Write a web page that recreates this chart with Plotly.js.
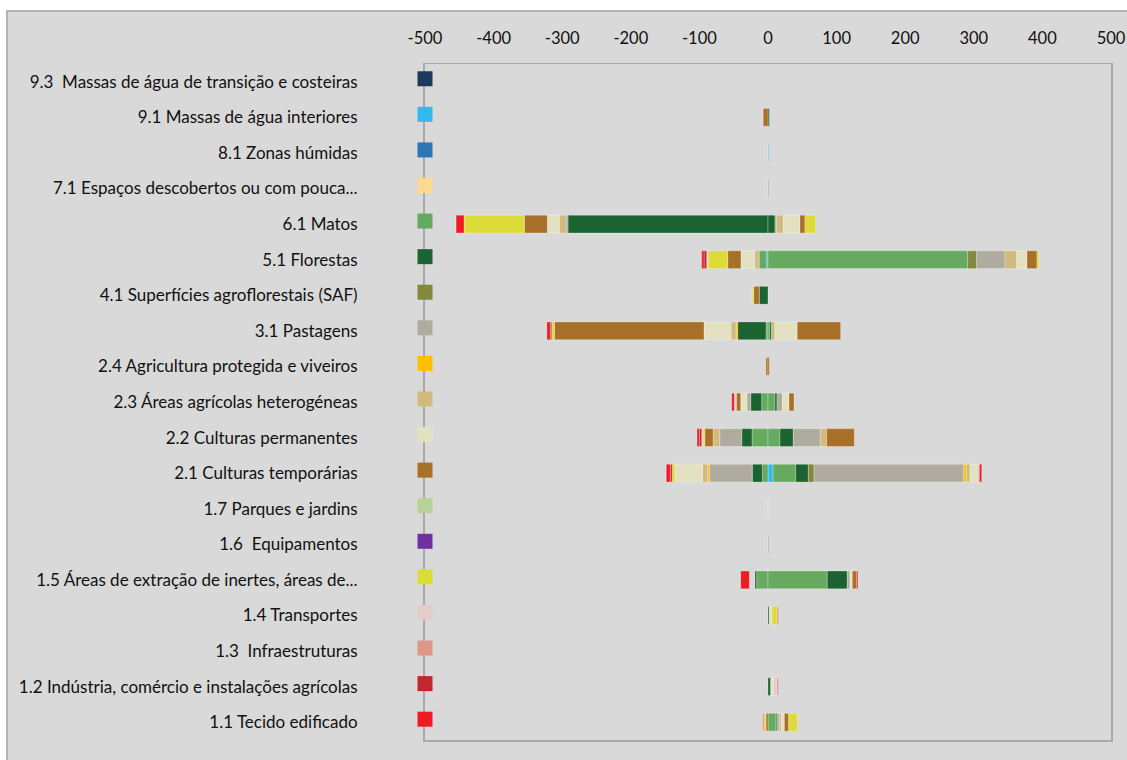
<!DOCTYPE html>
<html><head><meta charset="utf-8">
<script src="https://cdn.plot.ly/plotly-3.0.1.min.js"></script>
<style>
html,body{margin:0;padding:0;background:#fff;width:1127px;height:760px;overflow:hidden;}
#moldura{position:absolute;left:6px;top:10px;width:1200px;height:800px;background:#d9d9d9;border-left:2px solid #b3b3b3;border-top:2px solid #b3b3b3;}
#grafico{position:absolute;left:0;top:0;width:1127px;height:760px;}
</style></head><body>
<div id="moldura"></div><div id="grafico"></div>
<script>
// Categories (top to bottom)
const categorias = [
  '9.3\u00a0 Massas de água de transição e costeiras',
  '9.1 Massas de água interiores',
  '8.1 Zonas húmidas',
  '7.1 Espaços descobertos ou com pouca...',
  '6.1 Matos',
  '5.1 Florestas',
  '4.1 Superfícies agroflorestais (SAF)',
  '3.1 Pastagens',
  '2.4 Agricultura protegida e viveiros',
  '2.3 Áreas agrícolas heterogéneas',
  '2.2 Culturas permanentes',
  '2.1 Culturas temporárias',
  '1.7 Parques e jardins',
  '1.6\u00a0 Equipamentos',
  '1.5 Áreas de extração de inertes, áreas de...',
  '1.4 Transportes',
  '1.3\u00a0 Infraestruturas',
  '1.2 Indústria, comércio e instalações agrícolas',
  '1.1 Tecido edificado'
];
// Class codes (series, stacking order from zero outwards) and colours
const classes = ['9.3','9.1','8.1','7.1','6.1','5.1','4.1','3.1','2.4','2.3','2.2','2.1','1.7','1.6','1.5','1.4','1.3','1.2','1.1'];
const cores = ['#1b3a5e','#31b9ec','#2e75b6','#ffd98e','#65aa5f','#1b6331','#84883c','#afac9f','#ffc000','#d0ba7e','#e2e2c2','#a9702a','#b9d29a','#7030a0','#dddb38','#e7cccc','#db9787','#c1272d','#ed1c24'];

// Losses (negative), one value per category row (top to bottom)
const perdas_9_1 = [0,0,0,0,0,-1.9,0,0,0,0,0,0,0,0,0,0,0,0,0];
const perdas_6_1 = [0,0,0,0,0,-10.7,0,-2.9,0,-9.2,-23.3,-8.3,0,0,-16.5,0,0,0,0];
const perdas_5_1 = [0,0,0,0,-291.6,0,-12.7,-41.3,0,-16,-15,-14.6,0,0,-2.5,0,0,0,0];
const perdas_4_1 = [0,0,0,0,0,-1.5,0,0,0,0,0,0,0,0,0,0,0,0,0];
const perdas_3_1 = [0,0,0,0,-2.9,0,0,0,0,-5.4,-32.1,-62.3,0,0,0,0,0,0,0];
const perdas_2_4 = [0,0,0,0,0,0,0,-2.4,0,0,0,-2.9,0,0,0,0,0,0,0];
const perdas_2_3 = [0,0,0,0,-9.8,-5.3,0,-7.3,0,0,-9.7,-7.3,0,0,0,0,0,0,0];
const perdas_2_2 = [0,0,0,0,-17.4,-20,0,-39.4,0,-9.2,0,-40.3,0,0,0,0,0,0,0];
const perdas_2_1 = [0,-7,0,0,-33.5,-19.4,-8.2,-218.1,-3,-6.4,-12.1,0,0,0,0,0,0,0,-2.9];
const perdas_sem_cor = [0,0,0,0,0,0,0,0,0,0,0,0,0,0,-8.2,0,0,0,0];
const perdas_1_5 = [0,0,0,0,-87.9,-28.7,-2,-3.9,0,0,-2.5,-3.9,0,0,0,0,0,0,-2.5];
const perdas_1_4 = [0,0,0,0,0,-1.9,0,0,0,-2.9,-2,0,0,0,0,0,0,0,0];
const perdas_1_3 = [0,0,0,0,0,0,0,0,0,0,0,0,0,0,0,0,0,0,-2.5];
const perdas_1_2 = [0,0,0,0,0,-3.9,0,-2,0,0,-3.4,-2.9,0,0,0,0,0,0,0];
const perdas_1_1 = [0,0,0,0,-11.6,-3.4,0,-5,0,-3.8,-3.4,-5.8,0,0,-12.6,0,0,0,0];

// Gains (positive)
const ganhos_9_1 = [0,0,1,0,0,0,0,0,0,0,0,7.3,0,0,0,0,0,0,0];
const ganhos_6_1 = [0,0,0,1,0,291.1,0,2.9,0,10.2,17.5,33.1,0,1,86.4,0,0,0,11.7];
const ganhos_5_1 = [0,2,0,0,10.2,0,0,2.4,0,2.9,19.4,18.4,0,0,29.2,1.9,0,4,1.5];
const ganhos_4_1 = [0,0,0,0,0,13.1,0,0,0,0,0,8.3,0,0,0,0,0,0,0];
const ganhos_3_1 = [0,0,0,0,2.4,41.3,0,0,0,7.8,39.4,218.2,0,0,3.9,0,0,0,3.4];
const ganhos_2_4 = [0,0,0,0,0,0,0,0,0,0,0,3.9,0,0,0,0,0,0,0];
const ganhos_2_3 = [0,0,0,0,9.7,17,0,4.8,0,0,9.2,5.3,0,0,0,0,0,0,2.9];
const ganhos_2_2 = [0,0,0,0,24.3,15,0,32.5,0,9.7,0,12.2,0,0,3.4,3.9,0,3.5,4.4];
const ganhos_2_1 = [0,0,0,0,7.3,14.6,0,63.3,2,7.3,40.3,0,0,0,6.3,0,0,0,6.3];
const ganhos_1_7 = [0,0,0,0,0,0,0,0,0,0,0,0,1,0,0,0,0,0,0];
const ganhos_1_5 = [0,0,0,0,15.5,2.9,0,0,0,0,0,0,0,0,0,7.3,0,0,12.6];
const ganhos_1_4 = [0,0,0,0,0,0,0,0,0,0,0,0,0,0,0,0,0,5.5,0];
const ganhos_1_3 = [0,0,0,0,0,0,0,0,0,0,0,1.5,0,0,0,2.4,0,2.5,0];
const ganhos_1_1 = [0,0,0,0,0,0,0,0,0,0,0,3.4,0,0,1.9,0,0,0,0];

// Axis ticks
const ticksX = [-500,-400,-300,-200,-100,0,100,200,300,400,500];
const textoTicksX = ['-500','-400','-300','-200','-100','0','100','200','300','400','500'];

// Series list in stacking order
const series = [
  ['9.1', perdas_9_1, ganhos_9_1],
  ['6.1', perdas_6_1, ganhos_6_1],
  ['5.1', perdas_5_1, ganhos_5_1],
  ['4.1', perdas_4_1, ganhos_4_1],
  ['3.1', perdas_3_1, ganhos_3_1],
  ['2.4', perdas_2_4, ganhos_2_4],
  ['2.3', perdas_2_3, ganhos_2_3],
  ['2.2', perdas_2_2, ganhos_2_2],
  ['2.1', perdas_2_1, ganhos_2_1],
  ['1.7', null, ganhos_1_7],
  ['', perdas_sem_cor, null],
  ['1.5', perdas_1_5, ganhos_1_5],
  ['1.4', perdas_1_4, ganhos_1_4],
  ['1.3', perdas_1_3, ganhos_1_3],
  ['1.2', perdas_1_2, null],
  ['1.1', perdas_1_1, ganhos_1_1]
];

const limpa = arr => arr.map(v => v === 0 ? null : v);
const traces = [];
series.forEach(([nome, perdas, ganhos]) => {
  const idx = classes.indexOf(nome);
  const cor = idx >= 0 ? cores[idx] : 'rgba(0,0,0,0)';
  const linha = idx >= 0 ? {color:'rgba(255,255,255,0.28)', width:1} : {width:0};
  [perdas, ganhos].forEach(vals => {
    if (!vals) return;
    traces.push({
      type:'bar', orientation:'h', y:categorias, x:limpa(vals), name:nome,
      marker:{color:cor, line:linha}, hoverinfo:'skip', showlegend:false
    });
  });
});
// Coloured category squares at x = -500
traces.push({
  type:'scatter', mode:'markers', x:categorias.map(() => -500), y:categorias, yaxis:'y2',
  marker:{symbol:'square', size:15, color:cores}, cliponaxis:false, hoverinfo:'skip', showlegend:false
});

const layout = {
  width:1127, height:760,
  margin:{l:425, r:16, t:64, b:20, pad:0},
  paper_bgcolor:'rgba(0,0,0,0)', plot_bgcolor:'rgba(0,0,0,0)',
  barmode:'relative', bargap:0.5, showlegend:false,
  font:{family:'Lato, sans-serif', size:17, color:'#111'},
  xaxis:{side:'top', range:[-500,500], tickmode:'array', tickvals:ticksX, ticktext:textoTicksX,
    tickfont:{size:16.5},
    showgrid:false, zeroline:false, showline:true, mirror:true, linecolor:'#a9a9a9', linewidth:1.5,
    ticks:'', ticklabelstandoff:12, fixedrange:true},
  yaxis:{type:'category', categoryorder:'array', categoryarray:categorias, range:[18.5,-0.5],
    tickfont:{size:17},
    showgrid:false, zeroline:false, showline:true, mirror:true, linecolor:'#a9a9a9', linewidth:2,
    ticks:'', ticklabelstandoff:62, layer:'below traces', fixedrange:true},
  yaxis2:{overlaying:'y', type:'category', categoryorder:'array', categoryarray:categorias,
    range:[18.5+0.085,-0.5+0.085], visible:false, fixedrange:true}
};
Plotly.newPlot('grafico', traces, layout, {staticPlot:true, displayModeBar:false});
</script></body></html>
